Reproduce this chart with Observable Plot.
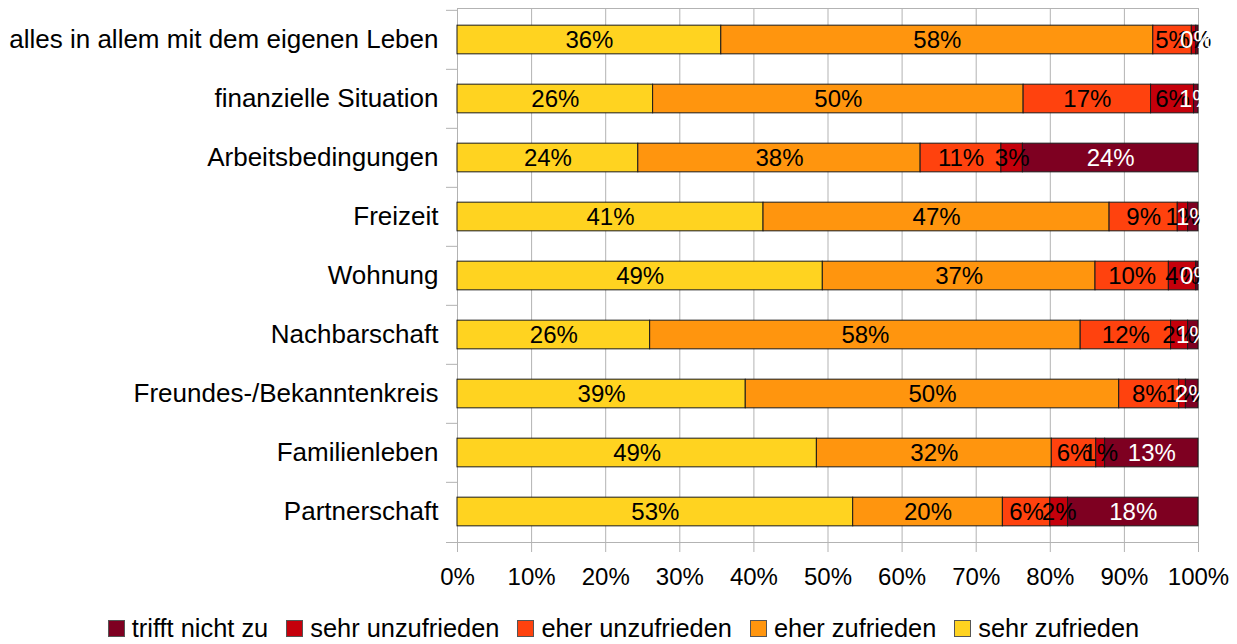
<!DOCTYPE html>
<html>
<head>
<meta charset="utf-8">
<script src="https://cdn.jsdelivr.net/npm/d3@7"></script>
<script src="https://cdn.jsdelivr.net/npm/@observablehq/plot@0.6"></script>
<style>
  html, body { margin: 0; padding: 0; background: #fff; }
  body { width: 1237px; height: 644px; position: relative; overflow: hidden; font-family: "Liberation Sans", Arial, sans-serif; color: #000; }
  #chart { position: absolute; left: 0; top: 0; }
  #legend { position: absolute; left: 5px; top: 614px; width: 1237px; height: 28px; display: flex; justify-content: center; align-items: center; font-size: 25.4px; line-height: 28px; }
  .item { display: flex; align-items: center; margin: 0 9px; }
  .sw { width: 15px; height: 15px; border: 1px solid #555; margin-right: 7px; }
</style>
</head>
<body>
<div id="chart"></div>
<div id="legend"></div>
<script>
const categories = [
  "alles in allem mit dem eigenen Leben",
  "finanzielle Situation",
  "Arbeitsbedingungen",
  "Freizeit",
  "Wohnung",
  "Nachbarschaft",
  "Freundes-/Bekanntenkreis",
  "Familienleben",
  "Partnerschaft"
];
const seriesNames = ["sehr zufrieden", "eher zufrieden", "eher unzufrieden", "sehr unzufrieden", "trifft nicht zu"];
const seriesColors = ["#FFD320", "#FF950E", "#FF420E", "#C5000B", "#7E0021"];

const sehrZufrieden   = [35.6, 26.4, 24.4, 41.3, 49.3, 26.0, 38.9, 48.5, 53.4];
const eherZufrieden   = [58.3, 50.0, 38.1, 46.7, 36.8, 58.1, 50.4, 31.7, 20.2];
const eherUnzufrieden = [5.2, 17.2, 10.9, 9.2, 9.9, 12.2, 8.1, 6.0, 6.4];
const sehrUnzufrieden = [0.6, 5.8, 2.9, 1.4, 3.7, 2.3, 0.9, 1.2, 2.4];
const trifftNichtZu   = [0.3, 0.6, 23.7, 1.4, 0.3, 1.4, 1.7, 12.6, 17.6];

const xTicks = [0, 10, 20, 30, 40, 50, 60, 70, 80, 90, 100];

const seriesValues = [sehrZufrieden, eherZufrieden, eherUnzufrieden, sehrUnzufrieden, trifftNichtZu];
const table = categories.flatMap((c, i) => seriesNames.map((s, j) => ({category: c, series: s, value: seriesValues[j][i]})));

const W = 1237, H = 600, mTop = 8, mBottom = 58, mLeft = 457, mRight = 39;
const step = (H - mTop - mBottom) / categories.length;
const barH = 29;
const inset = (step - barH) / 2;
const grid = "#b3b3b3";

const stackOpts = {x: "value", y: "category", z: "series", order: seriesNames};

const chart = Plot.plot({
  width: W,
  height: H,
  marginTop: mTop,
  marginBottom: mBottom,
  marginLeft: mLeft,
  marginRight: mRight,
  style: {fontFamily: "'Liberation Sans', Arial, sans-serif", color: "#000", background: "#fff"},
  x: {domain: [0, 100]},
  y: {domain: categories, padding: 0},
  color: {domain: seriesNames, range: seriesColors},
  marks: [
    Plot.gridX(xTicks, {stroke: grid, strokeOpacity: 1}),
    Plot.frame({anchor: "top", stroke: grid}),
    Plot.frame({anchor: "left", stroke: grid}),
    Plot.frame({anchor: "bottom", stroke: grid, insetLeft: -11}),
    Plot.axisY({tickSize: 11, tickFormat: () => "", stroke: grid, dy: -step / 2, label: null}),
    Plot.axisY({tickSize: 0, tickPadding: 19, fontSize: 26, label: null, fill: "#000"}),
    Plot.axisX(xTicks, {tickSize: 10, tickPadding: 15, tickFormat: d => d + "%", fontSize: 24, stroke: grid, fill: "#000", label: null}),
    Plot.barX(table, Plot.stackX({...stackOpts, fill: "series", stroke: "#1a1a1a", strokeWidth: 1, insetTop: inset, insetBottom: inset})),
    Plot.text(table, Plot.filter(d => d.series !== "trifft nicht zu", Plot.stackX({...stackOpts, text: d => Math.round(d.value) + "%", fill: "#000", fontSize: 24}))),
    Plot.text(table, Plot.filter(d => d.series === "trifft nicht zu", Plot.stackX({...stackOpts, text: d => Math.round(d.value) + "%", fill: "#fff", fontSize: 24})))
  ]
});
document.getElementById("chart").appendChild(chart);

const legend = document.getElementById("legend");
seriesNames.map((s, j) => ({s, c: seriesColors[j]})).reverse().forEach(({s, c}) => {
  const it = document.createElement("div");
  it.className = "item";
  const sw = document.createElement("span");
  sw.className = "sw";
  sw.style.background = c;
  const t = document.createElement("span");
  t.textContent = s;
  it.appendChild(sw);
  it.appendChild(t);
  legend.appendChild(it);
});
</script>
</body>
</html>
